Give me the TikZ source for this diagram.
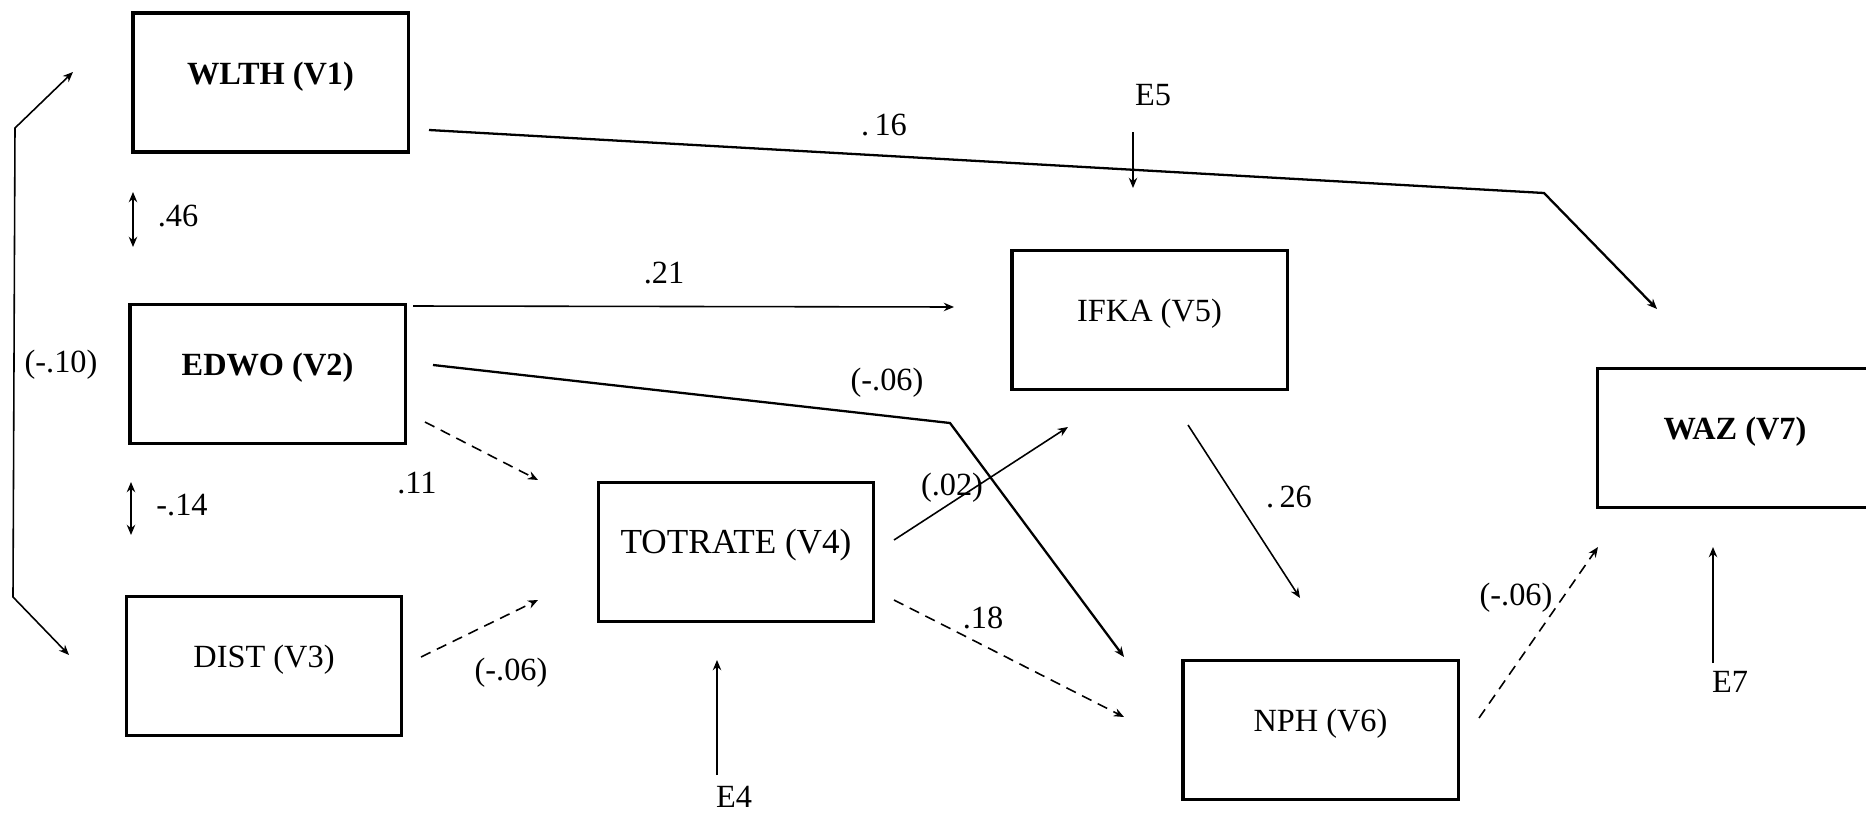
\documentclass[tikz,border=0pt]{standalone}
\usepackage{fontspec}
\setmainfont{Liberation Serif}
\usetikzlibrary{arrows.meta,calc}
\begin{document}
\begin{tikzpicture}[x=0.01cm,y=-0.01cm,
  font=\fontsize{9.2}{11}\selectfont,
  >={Stealth[length=2.9pt,width=2.4pt]},
  box/.style={draw,line width=0.9pt,minimum width=2.75cm,minimum height=1.39cm,
    inner sep=0pt,text height=7pt,text depth=6pt},
  conn/.style={line width=0.45pt,->},
  heavy/.style={line width=0.65pt,->},
  dconn/.style={conn,densely dashed},
  corr/.style={line width=0.45pt,<->},
  lbl/.style={inner sep=0pt}]
\useasboundingbox (0,0) rectangle (1866,818);
\clip (0,0) rectangle (1866,818);
\fill[white] (0,0) rectangle (1866,818);

% boxes
\node[box] (v1) at (270.5,82.5) {\bfseries WLTH (V1)};
\node[box] (v2) at (267.5,374) {\bfseries EDWO (V2)};
\node[box] (v3) at (264,666) {DIST (V3)};
\node[box] (v4) at (736,552) {\fontsize{10}{12}\selectfont TOTRATE (V4)};
\node[box] (v5) at (1149.5,320) {IFKA (V5)};
\node[box] (v6) at (1320.5,730) {NPH (V6)};
\node[box] (v7) at (1735,438) {\bfseries WAZ (V7)};

% error terms
\node[lbl] (e5) at (1153,95) {E5};
\node[lbl] (e4) at (734,797) {E4};
\node[lbl] (e7) at (1730,682) {E7};

% coordinates for connector ends
\coordinate (v1s) at (133,192);
\coordinate (v2n) at (133,247);
\coordinate (v2s) at (131,482);
\coordinate (v3n) at (131,535);
\coordinate (v1w) at (73,72);
\coordinate (lk1) at (15,128);
\coordinate (lk2) at (13,597);
\coordinate (v3w) at (69,655);
\coordinate (v1e) at (429,130);
\coordinate (bk1) at (1544,193);
\coordinate (v7n) at (1657,309);
\coordinate (e5a) at (1133,132);
\coordinate (v5n) at (1133,188);
\coordinate (v2e) at (413,306);
\coordinate (v5w) at (954,307);
\coordinate (v2e2) at (433,365);
\coordinate (bk2) at (950,423);
\coordinate (v6a) at (1124,657);
\coordinate (v2e3) at (425,422);
\coordinate (v4a) at (538,480);
\coordinate (v3e) at (421,657);
\coordinate (v4b) at (538,600);
\coordinate (v4e1) at (894,540);
\coordinate (v5a) at (1068,427);
\coordinate (v4e2) at (894,600);
\coordinate (v6b) at (1124,717);
\coordinate (e4a) at (717,775);
\coordinate (v4s) at (717,660);
\coordinate (v5s) at (1188,425);
\coordinate (v6n) at (1300,598);
\coordinate (v6e) at (1479,718);
\coordinate (v7a) at (1598,547);
\coordinate (e7a) at (1713,663);
\coordinate (v7s) at (1713,547);

% connectors
\draw[corr] (v1s) -- (v2n);
\draw[corr] (v2s) -- (v3n);
\draw[corr] (v1w) -- (lk1) -- (lk2) -- (v3w);
\draw[heavy] (v1e) -- (bk1) -- (v7n);
\draw[conn] (e5a) -- (v5n);
\draw[conn] (v2e) -- (v5w);
\draw[heavy] (v2e2) -- (bk2) -- (v6a);
\draw[dconn] (v2e3) -- (v4a);
\draw[dconn] (v3e) -- (v4b);
\draw[conn] (v4e1) -- (v5a);
\draw[dconn] (v4e2) -- (v6b);
\draw[conn] (e4a) -- (v4s);
\draw[conn] (v5s) -- (v6n);
\draw[dconn] (v6e) -- (v7a);
\draw[conn] (e7a) -- (v7s);

% path labels
\node[lbl] (l46) at (178,216) {.46};
\node[lbl] (l14) at (182,505) {-.14};
\node[lbl] (l10) at (61,365) {(-.10)};
\node[lbl] (l16) at (884,125) {.\,16};
\node[lbl] (l21) at (664,273) {.21};
\node[lbl] (l06a) at (887,383) {(-.06)};
\node[lbl] (l11) at (417,483) {.11};
\node[lbl] (l06b) at (511,673) {(-.06)};
\node[lbl] (l02) at (952,488) {(.02)};
\node[lbl] (l18) at (983,618) {.18};
\node[lbl] (l26) at (1289,497) {.\,26};
\node[lbl] (l06c) at (1516,598) {(-.06)};
\end{tikzpicture}
\end{document}
